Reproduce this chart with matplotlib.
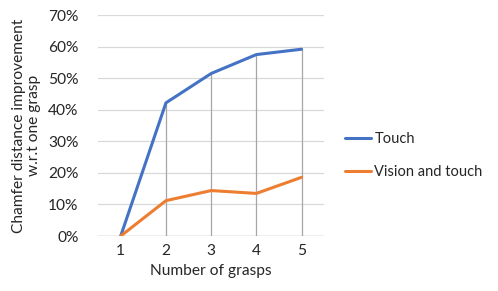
import matplotlib
matplotlib.use("Agg")
import matplotlib.pyplot as plt
from matplotlib.ticker import PercentFormatter

grasps = [1, 2, 3, 4, 5]
touch = [0.0, 42.2, 51.5, 57.5, 59.2]
vision_touch = [0.0, 11.2, 14.4, 13.5, 18.6]
y_ticks = [0, 10, 20, 30, 40, 50, 60, 70]

plt.rcParams['font.family'] = ['Lato', 'DejaVu Sans']

fig = plt.figure(figsize=(4.98, 2.91), dpi=100)
ax = fig.add_axes([0.197, 0.189, 0.454, 0.759])

for v in y_ticks:
    ax.axhline(v, color='#D9D9D9', lw=0.9, zorder=0)
ax.axhline(0, color='#BFBFBF', lw=1.0, zorder=1)

drop_top = [max(a, b) for a, b in zip(touch, vision_touch)]
ax.vlines(grasps, 0, drop_top, colors='#A6A6A6', lw=0.9, zorder=1)

ax.plot(grasps, touch, color='#4472C4', lw=2.2, label='Touch', zorder=3,
        solid_capstyle='round', solid_joinstyle='round')
ax.plot(grasps, vision_touch, color='#ED7D31', lw=2.2, label='Vision and touch', zorder=3,
        solid_capstyle='round', solid_joinstyle='round')

fs = 11.2
ax.set_xlim(0.5, 5.5)
ax.set_ylim(0, 70)
ax.set_yticks(y_ticks)
ax.yaxis.set_major_formatter(PercentFormatter(decimals=0))
ax.set_xticks(grasps)
for s in ax.spines.values():
    s.set_visible(False)
ax.tick_params(length=0, labelsize=fs, pad=6)
ax.tick_params(axis='y', pad=14)
for lbl in ax.get_xticklabels() + ax.get_yticklabels():
    lbl.set_color('#262626')

ax.set_xlabel('Number of grasps', fontsize=fs, color='#262626', labelpad=4)
ax.set_ylabel('Chamfer distance improvement\nw.r.t one grasp', fontsize=fs,
              color='#262626', labelpad=5, linespacing=1.15)

leg = fig.legend(loc='center left', bbox_to_anchor=(0.693, 0.465), frameon=False,
                 fontsize=10.5, handlelength=1.75, handletextpad=0.25, labelspacing=1.3,
                 borderpad=0, borderaxespad=0)
for t in leg.get_texts():
    t.set_color('#262626')

fig.savefig('out.png', dpi=100)
